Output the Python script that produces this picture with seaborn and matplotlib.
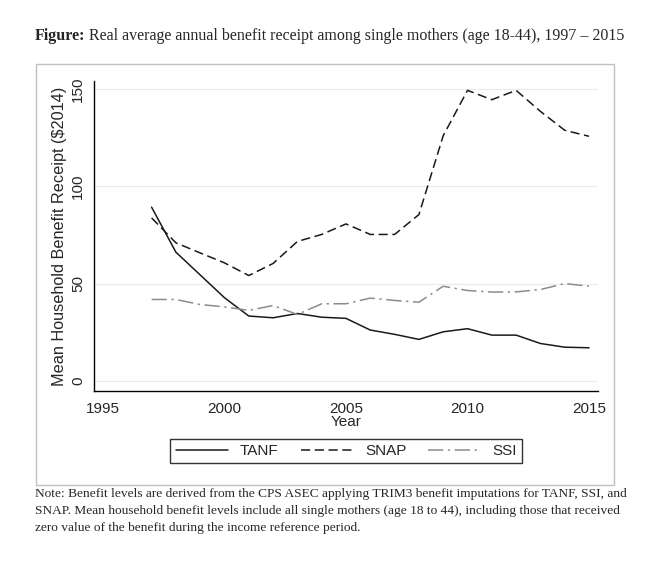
import matplotlib
matplotlib.use("Agg")
import matplotlib.pyplot as plt
import seaborn as sns
import pandas as pd
from matplotlib.patches import Rectangle

years = list(range(1997, 2016))
tanf = [89.3, 66.2, 54.5, 42.8, 33.4, 32.5, 34.7, 32.8, 32.2, 26.2, 24.0, 21.4, 25.3, 26.9, 23.6, 23.6, 19.3, 17.4, 17.1]
snap = [83.8, 71.0, 65.8, 60.7, 54.2, 60.4, 71.7, 75.3, 80.7, 75.3, 75.3, 85.5, 126.0, 149.3, 144.5, 149.3, 138.5, 128.8, 125.7]
ssi = [41.9, 41.9, 39.3, 38.1, 36.3, 38.8, 34.2, 39.7, 39.7, 42.6, 41.4, 40.5, 48.7, 46.5, 45.7, 45.8, 47.0, 50.1, 48.7]
series_names = ["TANF", "SNAP", "SSI"]
x_ticks = [1995, 2000, 2005, 2010, 2015]
y_ticks = [0, 50, 100, 150]

df = pd.DataFrame({
    "Year": years * 3,
    "Value": tanf + snap + ssi,
    "Program": ["TANF"] * len(years) + ["SNAP"] * len(years) + ["SSI"] * len(years),
})

sns.set_theme(style="white")
plt.rcParams["font.family"] = ["Liberation Sans", "DejaVu Sans"]

fig = plt.figure(figsize=(6.58, 5.64), dpi=100)
fig.patch.set_facecolor("white")

# outer gray frame
fig.patches.append(Rectangle((36 / 658, 1 - 485 / 564), (614 - 36) / 658, (485 - 64) / 564,
                             transform=fig.transFigure, fill=False, edgecolor="#c0c0c0", lw=1.0))

ax = fig.add_axes([94 / 658, 1 - 391 / 564, (598 - 94) / 658, (391 - 81) / 564])

palette = {"TANF": "#1a1a1a", "SNAP": "#1a1a1a", "SSI": "#8c8c8c"}
dashes = {"TANF": "", "SNAP": (6, 3), "SSI": (10, 3, 1.5, 3)}
sns.lineplot(data=df, x="Year", y="Value", hue="Program", style="Program",
             hue_order=series_names, style_order=series_names,
             palette=palette, dashes=dashes, lw=1.1, ax=ax, legend=True)

ax.set_xlim(1994.63, 2015.37)
ax.set_ylim(-5.1, 154.1)
ax.set_xticks(x_ticks)
ax.set_yticks(y_ticks)
ax.set_xticklabels([str(t) for t in x_ticks], fontsize=11)
ax.set_yticklabels([str(t) for t in y_ticks], fontsize=11, rotation=90, va="center")
ax.yaxis.grid(True, color="#e6ecee", lw=0.8)
ax.xaxis.grid(False)
for s in ["top", "right"]:
    ax.spines[s].set_visible(False)
for s in ["left", "bottom"]:
    ax.spines[s].set_color("black")
    ax.spines[s].set_linewidth(1.0)
ax.tick_params(axis="both", direction="out", length=5, width=1, color="black", pad=3)
ax.tick_params(axis="y", pad=1.5)
ax.set_xlabel("Year", fontsize=11, labelpad=-1)
ax.set_ylabel("Mean Household Benefit Receipt ($2014)", fontsize=11.7, labelpad=3)

handles, labels = ax.get_legend_handles_labels()
ax.legend(handles, labels, loc="center", bbox_to_anchor=((173 + 520) / 2 / 658, 1 - 451 / 564),
          bbox_transform=fig.transFigure, ncol=3, frameon=True, fancybox=False,
          edgecolor="black", fontsize=11, handlelength=3.4, columnspacing=1.45,
          borderpad=0.35, handletextpad=0.8)
ax.get_legend().get_frame().set_linewidth(1.0)

# title: bold "Figure:" followed by regular text
t1 = fig.text(35 / 658, 1 - 40 / 564, "Figure:", fontsize=11.5, family="Liberation Serif",
              weight="bold", va="baseline")
fig.canvas.draw()
w = t1.get_window_extent(renderer=fig.canvas.get_renderer()).width
fig.text(35 / 658 + (w + 3.5) / 658, 1 - 40 / 564,
         "Real average annual benefit receipt among single mothers (age 18-44), 1997 \u2013 2015",
         fontsize=11.5, family="Liberation Serif", va="baseline")

note = ("Note: Benefit levels are derived from the CPS ASEC applying TRIM3 benefit imputations for TANF, SSI, and\n"
        "SNAP. Mean household benefit levels include all single mothers (age 18 to 44), including those that received\n"
        "zero value of the benefit during the income reference period.")
fig.text(35 / 658, 1 - 488 / 564, note, fontsize=9.6, family="Liberation Serif", va="top", linespacing=1.58)

fig.savefig("out.png", dpi=100)
